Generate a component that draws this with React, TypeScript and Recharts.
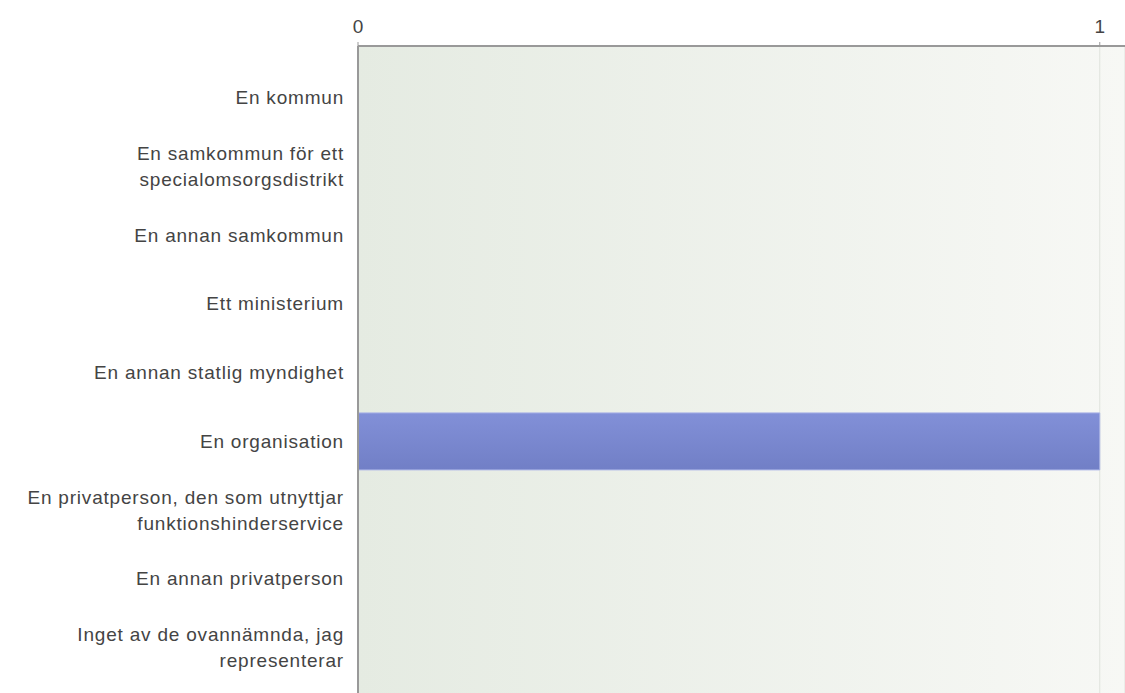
import { BarChart, Bar, XAxis, YAxis, CartesianGrid } from "recharts";

const categories = [
  "En kommun",
  "En samkommun för ett|specialomsorgsdistrikt",
  "En annan samkommun",
  "Ett ministerium",
  "En annan statlig myndighet",
  "En organisation",
  "En privatperson, den som utnyttjar|funktionshinderservice",
  "En annan privatperson",
  "Inget av de ovannämnda, jag|representerar",
];
const answers = [0, 0, 0, 0, 0, 1, 0, 0, 0];
const xTicks = [0, 1];

const data = categories.map((name, i) => ({ name, count: answers[i] }));

const FONT = "'Liberation Sans', Arial, sans-serif";

function CategoryTick(props: any) {
  const { x, y, payload } = props;
  const lines: string[] = String(payload.value).split("|");
  const lh = 26;
  const start = y - ((lines.length - 1) * lh) / 2;
  return (
    <text
      x={x}
      y={start}
      textAnchor="end"
      fontFamily={FONT}
      fontSize={19}
      letterSpacing={0.8}
      fill="#444"
    >
      {lines.map((l, i) => (
        <tspan key={i} x={x} y={start + i * lh} dy="0.35em">
          {l}
        </tspan>
      ))}
    </text>
  );
}

export default function App() {
  return (
    <div style={{ position: "fixed", left: 0, top: 0, width: 1125, height: 693, overflow: "hidden", background: "#fff" }}>
      <BarChart
        width={1125}
        height={699}
        data={data}
        layout="vertical"
        margin={{ top: 0, right: 0, left: 0, bottom: 0 }}
      >
        <defs>
          <linearGradient id="plotBg" x1="0" y1="0" x2="1" y2="0">
            <stop offset="0%" stopColor="#e5ebe2" />
            <stop offset="100%" stopColor="#f7f8f5" />
          </linearGradient>
          <linearGradient id="barFill" x1="0" y1="0" x2="0" y2="1">
            <stop offset="0%" stopColor="#8290d8" />
            <stop offset="100%" stopColor="#717fc6" />
          </linearGradient>
        </defs>
        <CartesianGrid
          horizontal={false}
          fill="url(#plotBg)"
          fillOpacity={1}
          stroke="#dfe3dc"
        />
        <XAxis
          type="number"
          orientation="top"
          domain={[0, 1.034]}
          ticks={xTicks}
          height={46}
          axisLine={{ stroke: "#999", strokeWidth: 2 }}
          tickLine={{ stroke: "#999" }}
          tickSize={4}
          tickMargin={9}
          tick={{ fontFamily: FONT, fontSize: 19, fill: "#444" }}
        />
        <YAxis
          type="category"
          dataKey="name"
          width={358}
          padding={{ top: 17, bottom: 17 }}
          axisLine={{ stroke: "#999", strokeWidth: 2 }}
          tickLine={false}
          tickMargin={8}
          tick={<CategoryTick />}
          interval={0}
        />
        <Bar
          dataKey="count"
          fill="url(#barFill)"
          stroke="#a9b3e6"
          strokeWidth={1}
          barSize={57}
          isAnimationActive={false}
        />
      </BarChart>
    </div>
  );
}
